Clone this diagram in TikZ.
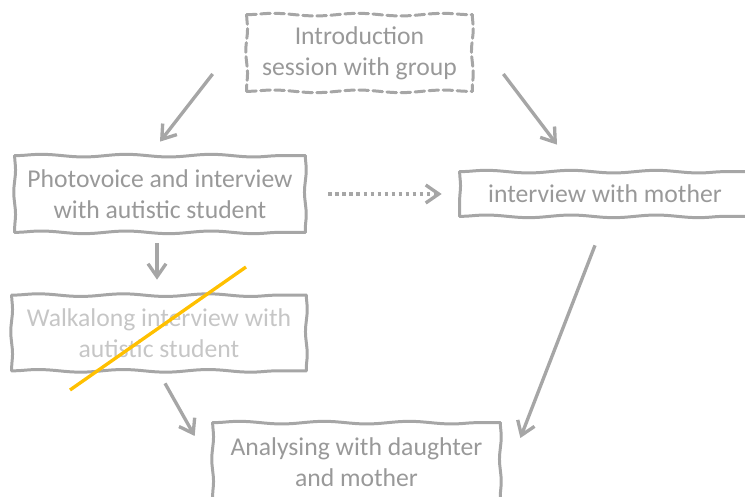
\documentclass[tikz,border=0pt]{standalone}
\usepackage{fontspec}
\setmainfont{Carlito}
\usepackage{tikz}
\usetikzlibrary{arrows.meta,positioning,decorations.pathmorphing,calc}
\definecolor{linegray}{HTML}{A6A6A6}
\definecolor{textgray}{HTML}{999999}
\definecolor{palegray}{HTML}{C6C6C6}
\definecolor{strikeyellow}{HTML}{FFC000}

\begin{document}
\begin{tikzpicture}[
      stage/.style={rectangle,text=textgray,align=center,
        font=\fontsize{14.6}{17.6}\selectfont,inner sep=0pt},
      dropped/.style={stage,text=palegray},
      hside/.style={draw=linegray,line width=1.7pt,line cap=round,
        decorate,decoration={snake,amplitude=0.75pt,segment length=1.7cm}},
      vside/.style={hside,decoration={snake,amplitude=0.5pt,segment length=0.9cm}},
      dashside/.style={dash pattern=on 5.5pt off 2.5pt},
      arrow/.style={-{Straight Barb[length=2.6mm,width=3.6mm]},line width=1.9pt,draw=linegray},
      dotarrow/.style={arrow,dash pattern=on 2pt off 2pt},
      strike/.style={line width=1.9pt,draw=strikeyellow}
    ]
    \useasboundingbox (0,0) rectangle (14.9,9.94);

    % Steps
    \node[stage,minimum width=4.5cm,minimum height=1.52cm] (intro) at (7.19,8.88)
      {Introduction\\session with group};
    \node[stage,minimum width=5.8cm,minimum height=1.52cm] (photo) at (3.2,6.06)
      {Photovoice and interview\\with autistic student};
    \node[stage,minimum width=5.8cm,minimum height=0.88cm] (mother) at (12.1,6.06)
      {interview with mother};
    \node[dropped,minimum width=5.88cm,minimum height=1.5cm] (walk) at (3.18,3.28)
      {Walkalong interview with\\autistic student};
    \node[stage,minimum width=5.74cm,minimum height=1.56cm] (analyse) at (7.13,0.70)
      {Analysing with daughter\\and mother};

    % Hand-drawn frames
    \foreach \n/\extra in {intro/dashside,photo/,mother/,walk/,analyse/} {
      \path (\n.north west) edge[hside,\extra] (\n.north east)
            (\n.south west) edge[hside,\extra] (\n.south east)
            (\n.north west) edge[vside,\extra] (\n.south west)
            (\n.north east) edge[vside,\extra] (\n.south east);
    }

    % Arrows
    \draw[arrow] ($(intro.west)+(-0.68,-0.42)$) -- ($(photo.north)+(0,0.28)$);
    \draw[arrow] ($(intro.east)+(0.62,-0.42)$) -- ($(mother.north)+(-0.96,0.54)$);
    \draw[arrow] ($(photo.south)+(-0.06,-0.22)$) -- ($(walk.north)+(-0.04,0.31)$);
    \draw[dotarrow,shorten <=0.46cm,shorten >=0.36cm] (photo.east) -- (mother.west);
    \draw[arrow] ($(mother.south)+(-0.2,-0.58)$) -- ($(analyse.east)+(0.4,0.48)$);
    \draw[arrow] ($(walk.south)+(0.12,-0.25)$) -- ($(analyse.west)+(-0.36,0.52)$);

    % Dropped step
    \draw[strike] ($(walk.center)+(-1.78,-1.14)$) -- ($(walk.center)+(1.74,1.32)$);

  \end{tikzpicture}
\end{document}
